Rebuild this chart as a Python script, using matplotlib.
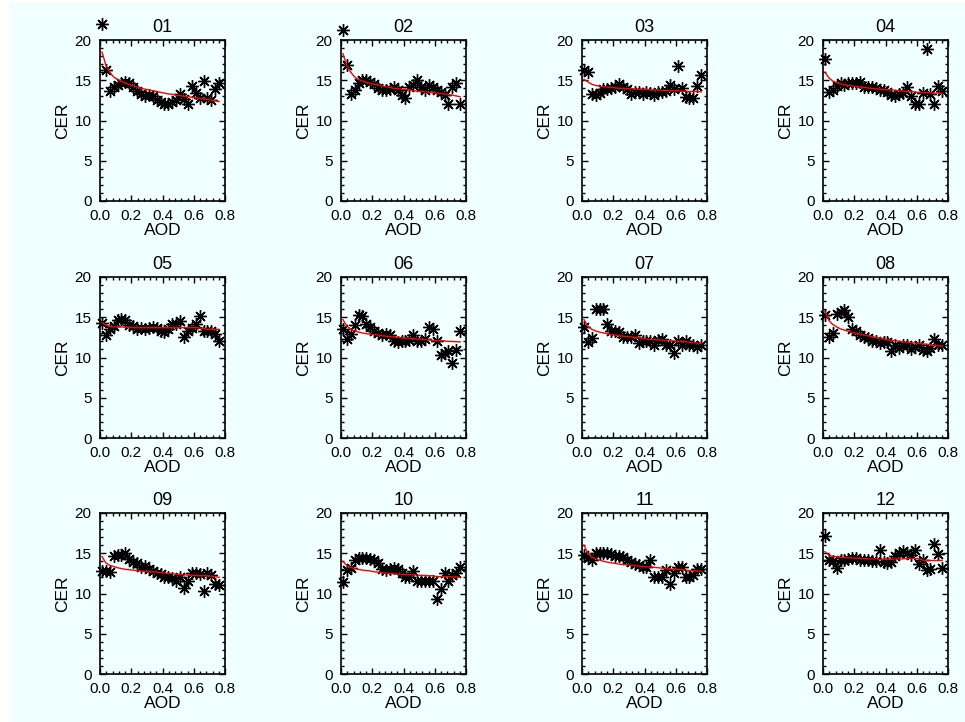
import numpy as np
import matplotlib.pyplot as plt
from matplotlib.patches import Rectangle
from matplotlib.ticker import MultipleLocator

plt.rcParams['font.family'] = ['Liberation Sans', 'DejaVu Sans']

# 月份标签
months = ['01', '02', '03', '04', '05', '06', '07', '08', '09', '10', '11', '12']

# AOD 分箱中心
aod = [0.0125, 0.0375, 0.0625, 0.0875, 0.1125, 0.1375, 0.1625, 0.1875,
       0.2125, 0.2375, 0.2625, 0.2875, 0.3125, 0.3375, 0.3625, 0.3875,
       0.4125, 0.4375, 0.4625, 0.4875, 0.5125, 0.5375, 0.5625, 0.5875,
       0.6125, 0.6375, 0.6625, 0.6875, 0.7125, 0.7375, 0.7625]

# 各月 CER 观测值
cer01 = [22.0, 16.3, 13.7, 14.1, 14.4, 14.7, 14.8, 14.6, 14.2, 13.7, 13.3, 13.0, 13.2, 13.0, 12.6, 12.3,
         12.0, 12.1, 12.3, 12.6, 13.3, 12.7, 12.0, 14.3, 13.4, 12.8, 14.9, 12.8, 12.6, 13.9, 14.7]
cer02 = [21.2, 16.9, 13.3, 13.8, 14.6, 15.0, 15.0, 14.8, 14.5, 14.0, 13.8, 13.8, 13.9, 14.1, 13.8, 13.2,
         12.8, 14.1, 14.4, 15.0, 14.1, 13.8, 14.4, 14.1, 13.8, 13.5, 13.2, 12.1, 14.1, 14.6, 12.0]
cer03 = [16.3, 16.0, 13.3, 13.2, 13.4, 13.9, 13.9, 14.0, 14.1, 14.5, 14.2, 13.9, 13.3, 13.6, 13.6, 13.3,
         13.5, 13.4, 13.2, 13.5, 13.6, 13.7, 14.4, 13.9, 16.8, 14.0, 12.9, 12.8, 12.8, 14.3, 15.6]
cer04 = [17.6, 13.6, 13.8, 14.3, 14.7, 14.4, 14.6, 14.7, 14.7, 14.8, 14.2, 14.1, 14.1, 14.0, 13.8, 13.8,
         13.5, 13.2, 13.1, 13.3, 13.4, 14.2, 13.0, 12.1, 12.1, 13.4, 18.9, 13.3, 12.0, 14.3, 13.7]
cer05 = [14.3, 12.8, 13.6, 13.9, 14.6, 14.75, 14.6, 14.0, 13.9, 13.6, 13.7, 13.6, 13.7, 13.8, 13.7, 13.3,
         13.2, 13.6, 14.1, 14.2, 14.5, 12.6, 13.25, 13.7, 14.2, 15.1, 13.25, 13.3, 13.25, 12.9, 12.1]
cer06 = [13.5, 12.3, 12.9, 14.0, 15.25, 15.1, 14.1, 13.75, 13.3, 13.0, 12.8, 12.9, 12.75, 12.0, 11.9, 12.0,
         12.1, 12.2, 12.75, 12.1, 12.1, 12.3, 13.75, 13.6, 12.0, 10.25, 10.6, 10.75, 9.3, 10.9, 13.3]
cer07 = [13.75, 11.9, 12.4, 16.0, 16.0, 16.0, 14.2, 13.3, 13.25, 13.2, 12.6, 12.6, 12.6, 12.75, 11.8, 12.1,
         12.0, 12.1, 11.5, 12.2, 12.3, 11.6, 11.6, 10.5, 12.1, 11.6, 12.1, 11.5, 11.6, 11.25, 11.6]
cer08 = [15.25, 12.5, 13.0, 15.4, 15.6, 15.9, 15.0, 13.6, 13.3, 12.75, 12.5, 12.4, 12.1, 12.1, 11.8, 11.9,
         11.9, 10.75, 11.6, 11.2, 11.5, 11.5, 11.1, 11.25, 11.5, 10.95, 10.8, 11.2, 12.3, 11.6, 11.5]
cer09 = [12.75, 12.75, 12.7, 14.6, 14.75, 14.75, 15.0, 14.3, 13.9, 13.75, 13.3, 13.4, 13.1, 12.75, 12.6, 12.4,
         12.0, 12.0, 11.9, 11.6, 12.0, 10.7, 11.6, 12.5, 12.5, 12.4, 10.25, 12.5, 12.3, 11.2, 11.1]
cer10 = [11.4, 12.9, 13.2, 14.1, 14.4, 14.4, 14.4, 14.3, 14.2, 13.75, 13.1, 12.9, 13.0, 13.2, 13.1, 12.5,
         12.0, 12.0, 12.75, 11.6, 11.6, 11.6, 11.6, 11.6, 9.3, 10.5, 12.5, 11.6, 12.3, 12.6, 13.3]
cer11 = [14.8, 14.4, 14.1, 15.0, 15.0, 15.0, 15.0, 14.9, 14.6, 14.6, 14.5, 14.2, 13.9, 13.7, 13.5, 13.3,
         13.3, 14.1, 12.1, 12.1, 12.1, 12.9, 11.2, 12.6, 13.25, 13.25, 12.0, 12.0, 12.3, 13.0, 13.0]
cer12 = [17.1, 14.2, 14.0, 13.2, 14.1, 14.2, 14.3, 14.4, 14.4, 14.2, 14.1, 14.1, 14.0, 14.0, 15.4, 13.9,
         13.75, 13.9, 14.6, 15.0, 15.25, 15.0, 14.75, 15.4, 13.7, 14.2, 12.9, 13.0, 16.1, 14.9, 13.2]

# 各月拟合曲线
fit01 = [18.5, 16.9, 16.0, 15.4, 15.1, 14.85, 14.65, 14.45, 14.3, 14.15, 14.0, 13.9, 13.8, 13.7, 13.6, 13.5,
         13.4, 13.3, 13.25, 13.15, 13.1, 13.0, 12.95, 12.9, 12.8, 12.75, 12.7, 12.6, 12.55, 12.45, 12.35]
fit02 = [18.3, 16.8, 16.0, 15.4, 15.1, 14.9, 14.75, 14.6, 14.5, 14.4, 14.3, 14.2, 14.1, 14.0, 13.95, 13.9,
         13.85, 13.8, 13.7, 13.65, 13.6, 13.55, 13.5, 13.45, 13.4, 13.35, 13.3, 13.2, 13.15, 13.05, 12.95]
fit03 = [15.1, 14.8, 14.5, 14.35, 14.25, 14.2, 14.15, 14.1, 14.05, 14.0, 14.0, 13.95, 13.95, 13.9, 13.9, 13.85,
         13.85, 13.8, 13.8, 13.8, 13.75, 13.75, 13.7, 13.7, 13.7, 13.65, 13.65, 13.6, 13.6, 13.6, 13.55]
fit04 = [16.0, 15.3, 14.9, 14.7, 14.55, 14.45, 14.35, 14.3, 14.2, 14.15, 14.1, 14.05, 14.0, 13.95, 13.9, 13.85,
         13.8, 13.8, 13.75, 13.7, 13.65, 13.6, 13.6, 13.55, 13.5, 13.5, 13.45, 13.45, 13.4, 13.4, 13.35]
fit05 = [14.3, 14.05, 13.85, 13.8, 13.8, 13.8, 13.75, 13.75, 13.7, 13.7, 13.7, 13.7, 13.7, 13.7, 13.7, 13.7,
         13.7, 13.7, 13.7, 13.7, 13.7, 13.7, 13.7, 13.7, 13.7, 13.65, 13.6, 13.5, 13.5, 13.5, 13.5]
fit06 = [14.7, 13.9, 13.5, 13.3, 13.15, 13.05, 12.95, 12.9, 12.85, 12.8, 12.7, 12.65, 12.6, 12.55, 12.5, 12.45,
         12.4, 12.4, 12.35, 12.3, 12.25, 12.2, 12.2, 12.15, 12.1, 12.1, 12.05, 12.0, 12.0, 11.95, 11.95]
fit07 = [14.7, 13.9, 13.5, 13.3, 13.15, 13.05, 12.95, 12.85, 12.8, 12.7, 12.65, 12.6, 12.55, 12.5, 12.45, 12.35,
         12.3, 12.25, 12.2, 12.2, 12.15, 12.1, 12.1, 12.05, 12.0, 12.0, 11.95, 11.9, 11.85, 11.8, 11.75]
fit08 = [15.7, 14.6, 14.1, 13.8, 13.55, 13.4, 13.25, 13.1, 13.0, 12.9, 12.8, 12.7, 12.6, 12.5, 12.4, 12.3,
         12.2, 12.15, 12.1, 12.0, 11.95, 11.9, 11.85, 11.8, 11.75, 11.7, 11.65, 11.6, 11.5, 11.45, 11.4]
fit09 = [14.6, 13.8, 13.5, 13.35, 13.2, 13.1, 13.0, 12.95, 12.9, 12.85, 12.8, 12.75, 12.7, 12.7, 12.65, 12.6,
         12.55, 12.5, 12.45, 12.4, 12.35, 12.3, 12.3, 12.25, 12.25, 12.2, 12.2, 12.2, 12.15, 12.1, 12.0]
fit10 = [14.0, 13.45, 13.25, 13.1, 13.0, 12.9, 12.85, 12.8, 12.7, 12.65, 12.6, 12.55, 12.5, 12.45, 12.4, 12.4,
         12.35, 12.35, 12.3, 12.3, 12.25, 12.25, 12.2, 12.2, 12.1, 12.1, 12.1, 12.1, 12.05, 12.05, 12.0]
fit11 = [16.0, 15.0, 14.55, 14.3, 14.15, 14.0, 13.9, 13.8, 13.75, 13.65, 13.6, 13.55, 13.5, 13.45, 13.4, 13.35,
         13.3, 13.3, 13.25, 13.2, 13.15, 13.1, 13.05, 13.0, 13.0, 12.95, 12.9, 12.85, 12.8, 12.8, 12.75]
fit12 = [15.2, 14.75, 14.6, 14.55, 14.5, 14.45, 14.45, 14.4, 14.4, 14.35, 14.35, 14.3, 14.3, 14.3, 14.25, 14.25,
         14.25, 14.25, 14.3, 14.3, 14.3, 14.35, 14.35, 14.35, 14.35, 14.15, 14.1, 14.1, 14.1, 14.1, 14.1]

cer_all = [cer01, cer02, cer03, cer04, cer05, cer06, cer07, cer08, cer09, cer10, cer11, cer12]
fit_all = [fit01, fit02, fit03, fit04, fit05, fit06, fit07, fit08, fit09, fit10, fit11, fit12]

# 画布 (像素)
W, H = 965, 722
bg = '#f0ffff'
col_left = [100, 341, 582, 823]
row_top = [40, 277, 513]
aw, ah = 125, 161

fig = plt.figure(figsize=(W / 100, H / 100), dpi=100)
fig.patch.set_facecolor('white')
fig.add_artist(Rectangle((10 / W, 0), 1 - 10 / W, 1 - 3 / H, transform=fig.transFigure,
                         facecolor=bg, edgecolor='none', zorder=-10))

for k in range(12):
    r, c = divmod(k, 4)
    ax = fig.add_axes([col_left[c] / W, 1 - (row_top[r] + ah) / H, aw / W, ah / H])
    ax.set_facecolor(bg)
    ax.plot(aod, cer_all[k], ls='none', marker=(8, 2, 0), ms=9, mew=1.0,
            color='black', clip_on=False, zorder=3)
    ax.plot(aod, fit_all[k], color='red', lw=1.0, zorder=4)
    ax.set_xlim(0, 0.8)
    ax.set_ylim(0, 20)
    ax.xaxis.set_major_locator(MultipleLocator(0.2))
    ax.xaxis.set_minor_locator(MultipleLocator(0.04))
    ax.yaxis.set_major_locator(MultipleLocator(5))
    ax.yaxis.set_minor_locator(MultipleLocator(1))
    ax.set_xticks([0.0, 0.2, 0.4, 0.6, 0.8])
    ax.set_xticklabels(['0.0', '0.2', '0.4', '0.6', '0.8'])
    ax.tick_params(which='both', direction='in', top=True, right=True,
                   labelsize=11, width=1, color='black')
    ax.tick_params(which='major', length=4, pad=6)
    ax.tick_params(which='minor', length=2)
    for s in ax.spines.values():
        s.set_linewidth(1.2)
    ax.set_title(months[k], fontsize=13, pad=6)
    ax.set_xlabel('AOD', fontsize=12.5, labelpad=0)
    ax.set_ylabel('CER', fontsize=12.5, labelpad=3)

fig.savefig('out.png', dpi=100, facecolor=fig.get_facecolor())
